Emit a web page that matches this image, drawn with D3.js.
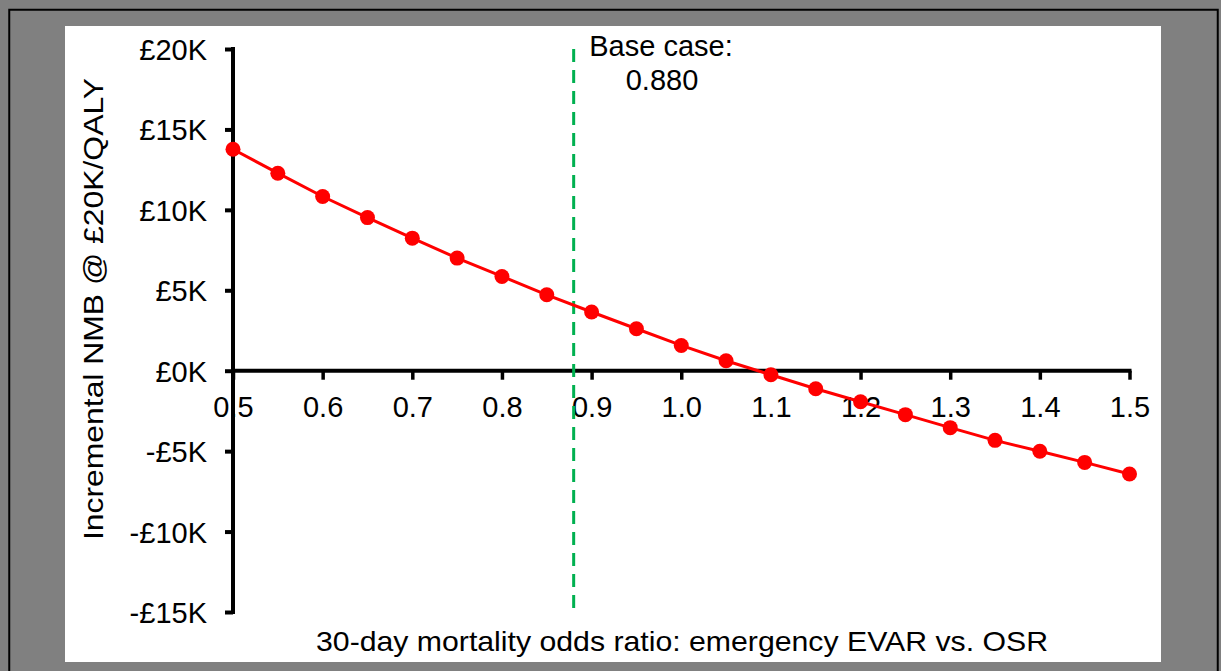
<!DOCTYPE html>
<html>
<head>
<meta charset="utf-8">
<script src="https://cdn.jsdelivr.net/npm/d3@7"></script>
<style>
  html, body { margin: 0; padding: 0; background: #808080; }
  svg { display: block; }
  text { font-family: "Liberation Sans", Arial, sans-serif; fill: #000; }
</style>
</head>
<body>
<svg id="chart" width="1221" height="671"></svg>
<script>
// ---- data ----
const oddsRatio = [0.5,0.55,0.6,0.65,0.7,0.75,0.8,0.85,0.9,0.95,1.0,1.05,1.1,1.15,1.2,1.25,1.3,1.35,1.4,1.45,1.5];
const nmbK = [13.77,12.28,10.83,9.52,8.24,7.0,5.86,4.72,3.65,2.61,1.57,0.62,-0.25,-1.12,-1.93,-2.73,-3.54,-4.33,-5.01,-5.70,-6.42];
const xTicks = [0.5,0.6,0.7,0.8,0.9,1.0,1.1,1.2,1.3,1.4,1.5];
const xTickLabels = ["0.5","0.6","0.7","0.8","0.9","1.0","1.1","1.2","1.3","1.4","1.5"];
const yTicks = [20,15,10,5,0,-5,-10,-15];
const yTickLabels = ["£20K","£15K","£10K","£5K","£0K","-£5K","-£10K","-£15K"];
const baseCase = 0.88;
const baseCaseLabel = ["Base case:", "0.880"];
const xTitle = "30-day mortality odds ratio: emergency EVAR vs. OSR";
const yTitle = "Incremental NMB @ £20K/QALY";

const svg = d3.select("#chart");

// frame
svg.append("rect").attr("x",9.25).attr("y",9.75).attr("width",1208.5).attr("height",1000)
  .attr("fill","none").attr("stroke","#000").attr("stroke-width",2);
svg.append("rect").attr("x",65).attr("y",26).attr("width",1096).attr("height",636).attr("fill","#fff");

const x = d3.scaleLinear().domain([0.5,1.5]).range([233,1129.5]);
const y = d3.scaleLinear().domain([-15,20]).range([612,49]);

// y axis at x=0.5
const yAxis = d3.axisLeft(y).tickValues(yTicks).tickSize(8).tickSizeOuter(0)
  .tickFormat((d,i)=>yTickLabels[i]);
const gy = svg.append("g").attr("transform",`translate(${x(0.5)},0)`).call(yAxis);
gy.select(".domain").attr("stroke","#000").attr("stroke-width",4).attr("d",`M0,${y(20)-2}V${y(-15)+2}`);
gy.selectAll(".tick line").attr("stroke","#000").attr("stroke-width",4).attr("x2",-8);
gy.selectAll(".tick text").attr("x",-26).attr("dy","0.36em")
  .style("font-size","29px").style("font-family","'Liberation Sans', Arial, sans-serif").attr("fill","#000");

// x axis at y=0
const xAxis = d3.axisBottom(x).tickValues(xTicks).tickSize(9).tickSizeOuter(0)
  .tickFormat((d,i)=>xTickLabels[i]);
const gx = svg.append("g").attr("transform",`translate(0,${y(0)})`).call(xAxis);
gx.select(".domain").attr("stroke","#000").attr("stroke-width",4).attr("d",`M${x(0.5)-2},0H${x(1.5)+2}`);
gx.selectAll(".tick line").attr("stroke","#000").attr("stroke-width",3.5);
gx.selectAll(".tick text").attr("y",46).attr("dy",null)
  .style("font-size","29px").style("font-family","'Liberation Sans', Arial, sans-serif").attr("fill","#000");

// base case dashed line
svg.append("line").attr("x1",x(baseCase)).attr("x2",x(baseCase))
  .attr("y1",y(20)).attr("y2",y(-15))
  .attr("stroke","#00B050").attr("stroke-width",3).attr("stroke-dasharray","13,8");

svg.append("text").attr("x",661).attr("y",56).attr("text-anchor","middle")
  .style("font-size","29px").text(baseCaseLabel[0]);
svg.append("text").attr("x",662).attr("y",90).attr("text-anchor","middle")
  .style("font-size","29px").text(baseCaseLabel[1]);

// series
const data = oddsRatio.map((d,i)=>({x:d, y:nmbK[i]}));
svg.append("path").datum(data)
  .attr("d", d3.line().x(d=>x(d.x)).y(d=>y(d.y)))
  .attr("fill","none").attr("stroke","#FF0000").attr("stroke-width",3);
svg.append("g").selectAll("circle").data(data).join("circle")
  .attr("cx",d=>x(d.x)).attr("cy",d=>y(d.y)).attr("r",7.5).attr("fill","#FF0000");

// axis titles
svg.append("text").attr("x",682).attr("y",651).attr("text-anchor","middle")
  .attr("textLength",732).attr("lengthAdjust","spacingAndGlyphs")
  .style("font-size","28px").text(xTitle);
svg.append("text").attr("transform","translate(103,309) rotate(-90)").attr("text-anchor","middle")
  .attr("textLength",462).attr("lengthAdjust","spacingAndGlyphs")
  .style("font-size","28px").text(yTitle);
</script>
</body>
</html>
